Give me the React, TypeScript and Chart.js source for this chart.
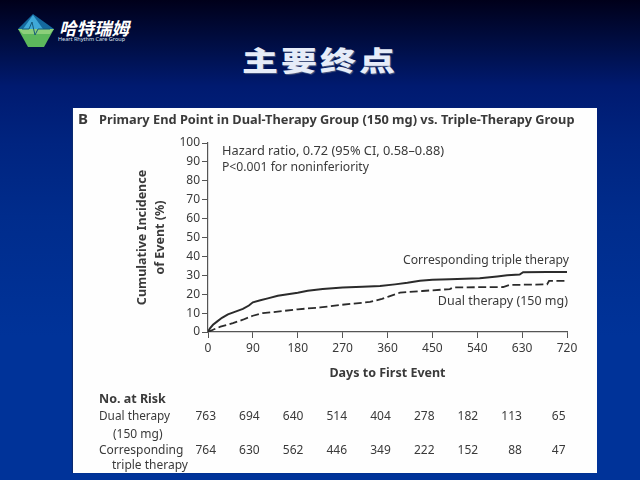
import { useEffect, useRef } from "react";
import { Chart, registerables } from "chart.js";

Chart.register(...registerables);

const tripleDays = [0, 4, 10, 18, 28, 40, 55, 70, 82, 90, 105, 120, 140, 160, 180, 200, 230, 270, 310, 345, 375, 400, 425, 450, 485, 545, 580, 600, 625, 632, 680, 720];
const tripleValues = [0, 2, 3.8, 5.5, 7.5, 9.3, 10.8, 12.2, 14, 15.7, 16.8, 17.8, 19.2, 20, 20.8, 21.8, 22.8, 23.6, 23.9, 24.3, 25.2, 26, 27.1, 27.6, 27.9, 28.4, 29.4, 30, 30.4, 31.6, 31.7, 31.7];
const dualDays = [0, 10, 25, 50, 70, 90, 110, 130, 180, 225, 265, 325, 349, 362, 385, 430, 485, 492, 545, 592, 605, 680, 684, 720];
const dualValues = [0, 1.2, 2.8, 4.7, 6.5, 8.6, 10, 10.5, 12, 13, 14.3, 15.9, 17.5, 18.7, 20.8, 21.7, 22.7, 23.6, 23.7, 23.8, 24.9, 25.2, 27, 27];

const atRiskDual = [763, 694, 640, 514, 404, 278, 182, 113, 65];
const atRiskTriple = [764, 630, 562, 446, 349, 222, 152, 88, 47];

const FONT = '"Noto Sans", sans-serif';
const INK = "#3a3a3a";

const notesPlugin = {
  id: "notes",
  afterDraw(chart: Chart) {
    const c = chart.ctx;
    const put = (text: string, x: number, y: number, size: number, weight = "", align: CanvasTextAlign = "left") => {
      c.font = `${weight} ${size}px ${FONT}`;
      c.textAlign = align;
      c.fillText(text, x, y + 1.5);
    };
    c.save();
    c.fillStyle = INK;
    c.textBaseline = "middle";
    put("B", 78, 118, 15, "bold");
    put("Primary End Point in Dual-Therapy Group (150 mg) vs. Triple-Therapy Group", 99, 119, 12.8, "bold");
    put("Hazard ratio, 0.72 (95% CI, 0.58–0.88)", 222, 150, 12.8);
    put("P<0.001 for noninferiority", 222, 166, 12.2);
    put("Corresponding triple therapy", 569, 259, 12.2, "", "right");
    put("Dual therapy (150 mg)", 568, 300, 12.5, "", "right");
    put("No. at Risk", 99, 398, 12.5, "bold");
    put("Dual therapy", 99, 415, 11.8);
    put("(150 mg)", 113, 433, 12);
    put("Corresponding", 99, 449, 12);
    put("triple therapy", 112, 464, 12);
    atRiskDual.forEach((n, i) => put(String(n), 216 + i * 43.7, 415, 12, "", "right"));
    atRiskTriple.forEach((n, i) => put(String(n), 216 + i * 43.7, 449, 12, "", "right"));
    c.restore();
  },
};

export default function App() {
  const canvasRef = useRef<HTMLCanvasElement>(null);

  useEffect(() => {
    document.body.style.margin = "0";
    if (!canvasRef.current) return;
    const chart = new Chart(canvasRef.current, {
      type: "line",
      data: {
        datasets: [
          {
            label: "Corresponding triple therapy",
            data: tripleDays.map((x, i) => ({ x, y: tripleValues[i] })),
            borderColor: "#2b2b2b",
            borderWidth: 2,
            pointRadius: 0,
            tension: 0,
          },
          {
            label: "Dual therapy (150 mg)",
            data: dualDays.map((x, i) => ({ x, y: dualValues[i] })),
            borderColor: "#2b2b2b",
            borderWidth: 1.8,
            borderDash: [8, 3.5],
            pointRadius: 0,
            tension: 0,
          },
        ],
      },
      options: {
        animation: false,
        responsive: false,
        layout: { padding: { left: 134, top: 143, right: 73, bottom: 99 } },
        plugins: { legend: { display: false }, tooltip: { enabled: false } },
        scales: {
          x: {
            type: "linear",
            min: 0,
            max: 720,
            afterFit: (s: any) => {
              s.height = 49;
              s.paddingLeft = 0;
              s.paddingRight = 0;
            },
            border: { color: "#555", width: 1.2 },
            grid: { drawOnChartArea: false, tickLength: 6, color: "#555" },
            ticks: { stepSize: 90, maxRotation: 0, color: INK, padding: 3, font: { family: FONT, size: 12 } },
            title: { display: true, text: "Days to First Event", color: INK, padding: { top: 2, bottom: 0 }, font: { family: FONT, size: 12.5, weight: "bold" } },
          },
          y: {
            min: 0,
            max: 100,
            afterFit: (s: any) => {
              s.width = 74;
              s.paddingTop = 0;
              s.paddingBottom = 0;
            },
            border: { color: "#555", width: 1.2 },
            grid: { drawOnChartArea: false, tickLength: 6, color: "#555" },
            ticks: { stepSize: 10, color: INK, padding: 2, font: { family: FONT, size: 12 } },
            title: { display: true, text: ["Cumulative Incidence", "of Event (%)"], color: INK, padding: 0, font: { family: FONT, size: 12.5, weight: "bold", lineHeight: 1.4 } },
          },
        },
      },
      plugins: [notesPlugin],
    });
    return () => chart.destroy();
  }, []);

  return (
    <div style={{ position: "relative", width: 640, height: 480, overflow: "hidden", background: "linear-gradient(180deg, #00001a 0%, #000f48 10%, #001a70 18%, #002480 30%, #002c8c 45%, #003399 70%, #003399 100%)" }}>
      <svg width="60" height="50" viewBox="0 0 60 50" style={{ position: "absolute", left: 0, top: 0, width: 60, height: 50 }}>
        <polygon points="33,14 54,29 18,29" fill="#14699e" />
        <polygon points="33,15 43,29 23,29" fill="#3fa9d8" />
        <polygon points="18,29 54,29 44,47 28,47" fill="#5cb85c" />
        <polygon points="18,29 54,29 50,34 23,34" fill="#8ccf7a" />
        <polyline points="22,29 29,29 32,22 35,35 38,29 50,29" fill="none" stroke="#155a7a" strokeWidth="1" />
      </svg>
      <div style={{ position: "absolute", left: 59, top: 17, fontFamily: '"Noto Sans CJK SC"', fontSize: 17.5, fontWeight: 700, fontStyle: "italic", color: "#fff", whiteSpace: "nowrap", lineHeight: "22px" }}>哈特瑞姆</div>
      <div style={{ position: "absolute", left: 58, top: 36, fontFamily: FONT, fontSize: 5.5, color: "#dfe6f2", whiteSpace: "nowrap", lineHeight: "7px" }}>Heart Rhythm Care Group</div>
      <div style={{ position: "absolute", left: 242, top: 36, fontFamily: '"Noto Sans CJK SC"', fontSize: 36, fontWeight: 900, letterSpacing: 3, color: "#e6ecf8", whiteSpace: "nowrap", lineHeight: "46px", transform: "scaleY(0.75)", transformOrigin: "left center", textShadow: "1px 1px 1px #4a5a80" }}>主要终点</div>
      <div style={{ position: "absolute", left: 73, top: 108, width: 524, height: 365, background: "#fefefe", boxShadow: "-1px 0 1px #0a2a70" }} />
      <canvas ref={canvasRef} width={640} height={480} style={{ position: "absolute", left: 0, top: 0 }} />
    </div>
  );
}
